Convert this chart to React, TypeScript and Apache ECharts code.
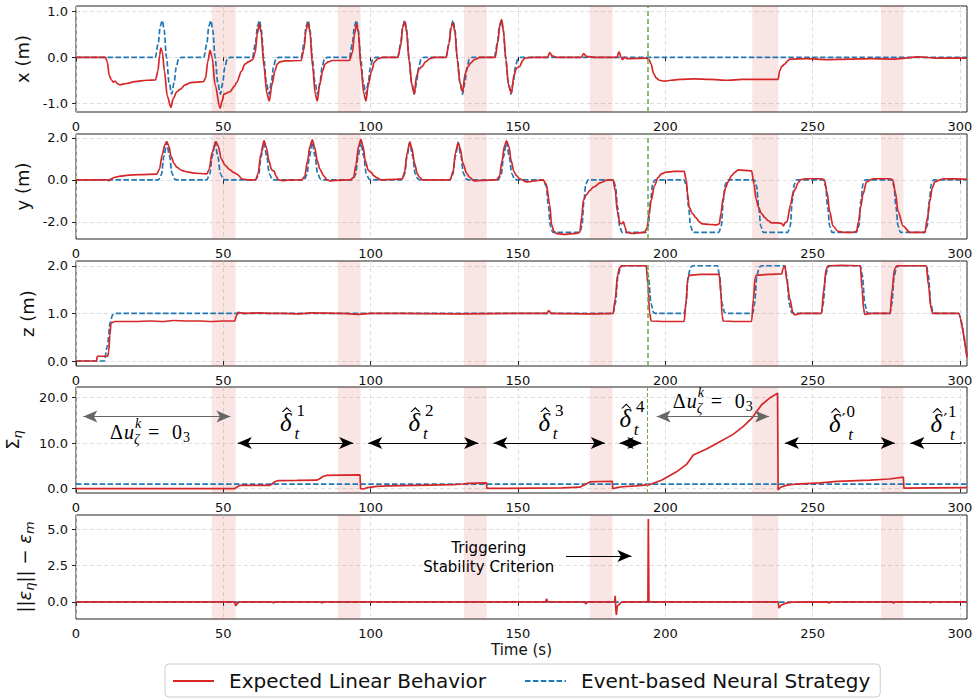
import React, { useEffect, useRef } from "react";
import * as echarts from "echarts";

const RED_NAME = "Expected Linear Behavior";
const BLUE_NAME = "Event-based Neural Strategy";
const RED = "#d62728";
const BLUE = "#1f77b4";
const GREEN = "#6fa84a";
const T_MAX = 302.4;

const xTicks = [0, 50, 100, 150, 200, 250, 300];
const ticksX = [-1, 0, 1];
const ticksY = [-2, 0, 2];
const ticksZ = [0, 1, 2];
const ticksSigma = [0, 10, 20];
const ticksErr = [0, 2.5, 5];

const bands: [number, number][] = [
  [46.1, 54.2], [88.9, 96.6], [131.7, 139.4], [174.4, 182.1], [229.5, 238.4], [273.2, 280.8],
];
const triggerTime = 194.0;

type P = [number, number];

const xRef: P[] = [
  [0, 0], [26.9, 0], [27.9, 0.3], [28.6, 0.68], [29.3, 0.8], [29.9, 0.6], [30.7, 0], [31.6, -0.55], [32.5, -0.8], [33.3, -0.55], [34.0, -0.22], [34.8, -0.04], [35.8, 0],
  [43.4, 0], [44.4, 0.3], [45.1, 0.68], [45.8, 0.8], [46.4, 0.6], [47.2, 0], [48.1, -0.55], [49.0, -0.8], [49.8, -0.55], [50.5, -0.22], [51.3, -0.04], [52.3, 0],
  [59.9, 0], [60.9, 0.3], [61.6, 0.68], [62.3, 0.8], [62.9, 0.6], [63.7, 0], [64.6, -0.55], [65.5, -0.8], [66.3, -0.55], [67.0, -0.22], [67.8, -0.04], [68.8, 0],
  [76.4, 0], [77.4, 0.3], [78.1, 0.68], [78.8, 0.8], [79.4, 0.6], [80.2, 0], [81.1, -0.55], [82.0, -0.8], [82.8, -0.55], [83.5, -0.22], [84.3, -0.04], [85.3, 0],
  [92.8, 0], [93.8, 0.3], [94.5, 0.68], [95.2, 0.8], [95.8, 0.6], [96.6, 0], [97.5, -0.55], [98.4, -0.8], [99.2, -0.55], [99.9, -0.22], [100.7, -0.04], [101.7, 0],
  [109.2, 0], [110.2, 0.3], [110.9, 0.68], [111.6, 0.8], [112.2, 0.6], [113.0, 0], [113.9, -0.55], [114.8, -0.8], [115.6, -0.55], [116.3, -0.22], [117.1, -0.04], [118.1, 0],
  [125.6, 0], [126.6, 0.3], [127.3, 0.68], [128.0, 0.8], [128.6, 0.6], [129.4, 0], [130.3, -0.55], [131.2, -0.8], [132.0, -0.55], [132.7, -0.22], [133.5, -0.04], [134.5, 0],
  [142.0, 0], [143.0, 0.3], [143.7, 0.68], [144.4, 0.8], [145.0, 0.6], [145.8, 0], [146.7, -0.55], [147.6, -0.8], [148.4, -0.55], [149.1, -0.22], [149.9, -0.04], [150.9, 0],
  [302.4, 0],
];

const xAct: P[] = [
  [0, 0], [10.0, 0], [10.6, -0.1], [11.3, -0.4], [12.1, -0.5], [12.7, -0.54], [13.3, -0.52], [14.0, -0.57], [14.9, -0.6], [17, -0.57], [20, -0.53], [24, -0.5], [27.0, -0.49],
  [27.8, -0.3], [28.4, 0.05], [28.8, 0.2], [29.3, 0.12], [30.0, -0.3], [31.0, -0.85], [32.2, -1.09], [33.0, -0.9], [34.2, -0.75], [35.3, -0.7], [37.0, -0.6], [39, -0.55], [43.2, -0.53],
  [44.0, -0.45], [44.7, -0.1], [45.5, 0.15], [46.2, 0.0], [47.2, -0.6], [48.9, -1.11], [49.6, -0.95], [50.2, -0.8], [52.2, -0.75], [53.9, -0.62], [54.5, -0.55], [56.2, -0.3], [57.3, -0.15], [58.5, -0.1], [60.0, -0.05],
  [60.8, 0.1], [61.5, 0.5], [62.2, 0.72], [62.8, 0.55], [63.8, -0.2], [64.8, -0.8], [65.6, -0.95], [66.5, -0.6], [67.5, -0.3], [68.3, -0.15], [69.2, -0.1], [71, -0.08], [76.4, -0.07],
  [77.3, 0.15], [78.1, 0.6], [78.8, 0.75], [79.4, 0.55], [80.3, -0.2], [81.2, -0.8], [81.9, -0.95], [82.7, -0.6], [83.7, -0.3], [84.5, -0.15], [85.6, -0.1], [87, -0.07], [92.8, -0.07],
  [93.8, 0.1], [94.5, 0.5], [95.2, 0.72], [95.8, 0.55], [96.7, -0.2], [97.7, -0.8], [98.4, -0.95], [99.2, -0.6], [100.3, -0.3], [101.3, -0.1], [102.5, -0.03], [104, 0], [109.2, 0],
  [110.2, 0.25], [110.9, 0.65], [111.6, 0.78], [112.2, 0.55], [113.1, -0.1], [114.0, -0.6], [114.8, -0.8], [115.6, -0.4], [116.5, -0.25], [117.5, -0.2], [118.6, -0.1], [120.1, -0.03], [121.5, 0], [125.6, 0],
  [126.6, 0.3], [127.3, 0.65], [128.0, 0.75], [128.6, 0.55], [129.4, -0.05], [130.3, -0.55], [131.2, -0.75], [132.1, -0.35], [133.1, -0.2], [134.0, -0.12], [135.2, -0.05], [137.1, 0], [142.3, 0],
  [143.2, 0.35], [143.9, 0.72], [144.5, 0.82], [145.1, 0.55], [145.9, -0.05], [146.8, -0.6], [147.8, -0.78], [148.6, -0.4], [149.5, -0.24], [150.6, -0.2], [151.5, -0.08], [152.3, -0.02], [155, 0],
  [160.0, 0], [160.8, 0.1], [161.6, 0.03], [163, 0], [171.5, 0], [172.3, 0.08], [173.2, 0.02], [176, 0], [183.6, 0], [184.3, 0.12], [185.0, 0.0], [185.4, -0.05], [186.2, 0.0], [187.2, -0.03],
  [193.5, -0.02], [194.5, -0.05], [195.2, -0.15], [196.0, -0.35], [196.9, -0.45], [198, -0.5], [199.7, -0.52], [202, -0.5], [205, -0.48], [210, -0.47], [215, -0.48], [221.3, -0.5], [226, -0.48], [232, -0.48], [238.3, -0.48],
  [238.8, -0.3], [239.5, -0.2], [240.5, -0.15], [241.5, -0.08], [242.3, -0.04], [248, -0.03], [255, -0.05], [262, -0.04], [270, -0.03], [278, -0.04], [286, 0.01], [292, -0.02], [302.4, -0.02],
];

const yRef: P[] = [
  [0, 0],
  [28.0, 0], [29.0, 0.25], [29.8, 1.1], [30.8, 1.78], [31.7, 1.15], [32.6, 0.3], [33.6, 0.02], [34.4, 0],
  [44.4, 0], [45.4, 0.25], [46.2, 1.1], [47.2, 1.78], [48.1, 1.15], [49.0, 0.3], [50.0, 0.02], [50.8, 0],
  [61.0, 0], [62.0, 0.25], [62.8, 1.1], [63.8, 1.78], [64.7, 1.15], [65.6, 0.3], [66.6, 0.02], [67.4, 0],
  [77.4, 0], [78.4, 0.25], [79.2, 1.1], [80.2, 1.78], [81.1, 1.15], [82.0, 0.3], [83.0, 0.02], [83.8, 0],
  [93.9, 0], [94.9, 0.25], [95.7, 1.1], [96.7, 1.78], [97.6, 1.15], [98.5, 0.3], [99.5, 0.02], [100.3, 0],
  [110.5, 0], [111.5, 0.25], [112.3, 1.1], [113.3, 1.78], [114.2, 1.15], [115.1, 0.3], [116.1, 0.02], [116.9, 0],
  [126.9, 0], [127.9, 0.25], [128.7, 1.1], [129.7, 1.78], [130.6, 1.15], [131.5, 0.3], [132.5, 0.02], [133.3, 0],
  [143.3, 0], [144.3, 0.25], [145.1, 1.1], [146.1, 1.78], [147.0, 1.15], [147.9, 0.3], [148.9, 0.02], [149.7, 0],
  [158.5, 0], [159.6, -0.3], [160.3, -1.2], [161.0, -2.2], [161.8, -2.5], [171.0, -2.5], [171.7, -2.2], [172.4, -1.0], [173.0, -0.2], [173.8, 0],
  [182.3, 0], [183.1, -0.3], [183.8, -1.3], [184.5, -2.2], [185.3, -2.5], [193.4, -2.5], [194.2, -2.2], [195.0, -1.0], [195.7, -0.2], [196.5, 0],
  [206.4, 0], [207.2, -0.3], [207.9, -1.3], [208.6, -2.2], [209.4, -2.5], [218.2, -2.5], [219.0, -2.2], [219.7, -1.0], [220.4, -0.2], [221.2, 0],
  [230.2, 0], [231.0, -0.3], [231.7, -1.3], [232.4, -2.2], [233.2, -2.5], [241.6, -2.5], [242.4, -2.2], [243.1, -1.0], [243.8, -0.2], [244.6, 0],
  [253.6, 0], [254.4, -0.3], [255.1, -1.3], [255.8, -2.2], [256.6, -2.5], [264.9, -2.5], [265.7, -2.2], [266.4, -1.0], [267.1, -0.2], [267.9, 0],
  [276.8, 0], [277.6, -0.3], [278.3, -1.3], [279.0, -2.2], [279.8, -2.5], [288.1, -2.5], [288.9, -2.2], [289.6, -1.0], [290.3, -0.2], [291.1, 0],
  [302.4, 0],
];

const yAct: P[] = [
  [0, 0], [10.4, 0], [11.2, -0.04], [12.0, 0.05], [13.2, 0.12], [15, 0.17], [17.2, 0.21], [21.7, 0.25], [27.4, 0.27],
  [28.3, 0.5], [29.3, 1.2], [30.1, 1.65], [30.8, 1.82], [31.5, 1.6], [32.3, 1.1], [33.2, 0.8], [34.2, 0.6], [35.8, 0.45], [37.6, 0.38], [40, 0.32], [44.4, 0.28],
  [45.2, 0.5], [46.2, 1.3], [47.5, 1.82], [48.3, 1.6], [49.3, 1.0], [50.6, 0.7], [52.2, 0.48], [53.5, 0.35], [54.5, 0.28], [55.2, 0.2], [56.2, 0.05], [58.0, 0], [61.0, 0],
  [61.8, 0.3], [62.7, 1.2], [63.8, 1.87], [64.6, 1.55], [65.5, 0.9], [66.4, 0.47], [67.2, 0.42], [67.8, 0.2], [68.7, 0.0], [70, -0.04], [72, -0.02], [76.6, 0],
  [77.6, 0.15], [78.6, 0.9], [79.4, 1.6], [80.2, 1.9], [81.0, 1.55], [81.9, 0.9], [82.8, 0.5], [84.0, 0.2], [85.2, 0.0], [86.2, -0.05], [88, -0.03], [93.0, 0],
  [94.2, 0.1], [95.0, 0.7], [95.9, 1.6], [96.7, 1.92], [97.4, 1.6], [98.2, 0.9], [99.2, 0.45], [100.2, 0.35], [101.0, 0.2], [102.0, 0.1], [103.5, 0], [108, 0.02], [110.8, 0.05],
  [111.6, 0.4], [112.4, 1.3], [113.3, 1.8], [114.0, 1.5], [114.9, 0.8], [115.8, 0.3], [116.6, 0.12], [117.5, 0], [123, 0], [127.0, 0],
  [128.0, 0.4], [128.8, 1.3], [129.7, 1.75], [130.4, 1.5], [131.3, 0.8], [132.6, 0.3], [133.6, 0.12], [135, -0.05], [138, -0.03], [142.7, 0],
  [143.7, 0.15], [144.6, 0.9], [145.4, 1.6], [146.1, 1.85], [146.9, 1.6], [147.7, 0.9], [148.6, 0.4], [149.5, 0.2], [150.6, 0.05], [152.8, -0.1], [155, -0.07], [158.5, 0],
  [159.6, -0.2], [160.8, -1.2], [161.4, -2.13], [162.2, -2.45], [163.1, -2.56], [165.3, -2.6], [169.9, -2.55], [171.0, -2.5], [171.6, -1.8], [172.2, -0.98], [173.3, -0.7], [174.4, -0.5], [175.6, -0.35], [177.9, -0.15], [180.2, -0.02], [182.3, 0],
  [183.0, -0.5], [183.7, -1.5], [184.6, -2.05], [185.2, -2.1], [185.8, -2.0], [186.3, -2.25], [186.9, -2.5], [188.5, -2.55], [193.0, -2.5], [193.8, -2.3], [194.5, -1.6], [195.2, -1.0], [196.3, -0.3], [197.5, 0.1], [198.7, 0.28], [200.3, 0.36], [203, 0.4], [206.4, 0.4],
  [207.1, 0.0], [207.6, -0.7], [208.1, -1.3], [209.2, -1.6], [210.4, -1.8], [211.5, -2.0], [212.6, -2.1], [215, -2.13], [217.2, -2.15], [218.3, -2.1], [218.9, -1.6], [219.6, -0.9], [220.4, -0.4], [221.3, -0.1], [222.5, 0.2], [223.6, 0.35], [224.7, 0.47], [227, 0.45], [229.3, 0.42],
  [230.1, -0.2], [230.8, -0.9], [231.6, -1.3], [232.6, -1.6], [233.8, -1.8], [235, -1.95], [236.1, -2.05], [238.0, -2.05], [239.5, -2.08], [240.1, -2.2], [240.6, -2.05], [241.3, -2.0], [242.5, -1.2], [243.4, -0.6], [244.2, -0.43], [245.0, -0.15], [245.9, 0.0], [247.5, 0.05], [253.0, 0.05],
  [254.0, 0.0], [254.9, -0.6], [255.8, -1.5], [256.9, -2.2], [258.6, -2.45], [260.5, -2.5], [263.7, -2.5], [264.9, -2.45], [265.6, -2.0], [266.3, -1.3], [267.1, -0.7], [268.3, -0.1], [270.5, 0.05], [276.2, 0.05],
  [277.2, 0.0], [278.1, -0.6], [279.0, -1.5], [280.7, -2.2], [283.0, -2.5], [288.1, -2.5], [289.0, -1.8], [289.8, -1.0], [290.6, -0.4], [291.5, -0.1], [294.3, 0.05], [298, 0.04], [302.4, 0.02],
];

const zRef: P[] = [
  [0, 0], [9.6, 0], [10.6, 0.3], [11.6, 0.8], [12.4, 0.97], [13.2, 1.0],
  [182.3, 1.0], [183.0, 1.2], [184.0, 1.8], [184.8, 1.97], [185.6, 2.0], [193.5, 2.0], [194.2, 1.8], [195.2, 1.2], [196.0, 1.02], [196.8, 1.0],
  [206.4, 1.0], [207.0, 1.2], [207.8, 1.8], [208.6, 1.97], [209.4, 2.0], [217.7, 2.0], [218.4, 1.8], [219.3, 1.2], [220.1, 1.02], [220.9, 1.0],
  [229.7, 1.0], [230.3, 1.2], [231.1, 1.8], [231.9, 1.97], [232.7, 2.0], [240.5, 2.0], [241.2, 1.8], [242.1, 1.2], [242.9, 1.02], [243.7, 1.0],
  [253.0, 1.0], [253.6, 1.2], [254.4, 1.8], [255.2, 1.97], [256.0, 2.0], [266.2, 2.0], [266.9, 1.8], [267.7, 1.2], [268.5, 1.02], [269.3, 1.0],
  [276.3, 1.0], [276.9, 1.2], [277.7, 1.8], [278.5, 1.97], [279.3, 2.0], [288.6, 2.0], [289.3, 1.8], [290.1, 1.2], [290.9, 1.02], [291.7, 1.0],
  [299.5, 1.0], [302.4, 0.1],
];

const zAct: P[] = [
  [0, 0], [7.0, 0], [7.2, 0.1], [10.8, 0.1], [11.1, 0.2], [11.5, 0.55], [11.9, 0.8], [13.2, 0.83], [20, 0.83], [25, 0.84], [30, 0.83], [33, 0.85], [38, 0.84], [42, 0.84], [46, 0.83], [50, 0.84], [53.9, 0.84],
  [54.4, 0.95], [55.0, 1.02], [57, 1.0], [62, 1.01], [66, 1.0], [70, 1.0], [76, 0.99], [80, 1.01], [90, 1.0], [96, 0.98], [100, 1.0], [110, 1.0], [130, 0.99], [150, 1.0], [159.8, 1.0], [160.5, 1.06], [161.2, 1.0], [175, 0.99],
  [182.3, 1.0], [183.0, 1.3], [183.8, 1.8], [184.5, 1.96], [185.2, 2.0], [193.5, 2.0], [194.1, 1.6], [194.7, 1.0], [195.2, 0.84], [200, 0.83], [206.4, 0.83],
  [207.0, 1.2], [207.6, 1.7], [208.1, 1.8], [212, 1.82], [218.3, 1.82], [218.9, 1.4], [219.3, 0.95], [219.6, 0.84], [224, 0.83], [229.3, 0.83],
  [229.9, 1.3], [230.5, 1.75], [230.9, 1.8], [235, 1.82], [239.5, 1.83], [240.0, 1.95], [240.6, 2.0], [241.2, 1.7], [242.3, 1.3], [243.3, 1.02], [243.9, 0.97], [246, 1.0], [253.0, 1.0],
  [253.8, 1.5], [254.6, 1.93], [255.3, 2.0], [260, 2.01], [266.2, 2.0], [266.8, 1.5], [267.3, 1.1], [267.7, 0.98], [270, 1.0], [276.3, 1.0],
  [277.0, 1.5], [277.8, 1.93], [278.6, 2.0], [283, 2.0], [288.6, 2.0], [289.3, 1.6], [290.2, 1.1], [290.8, 1.0], [295, 1.0], [299.5, 1.0], [302.4, 0.08],
];

const sigmaRef: P[] = [[0, 1.0], [302.4, 1.0]];

const sigmaAct: P[] = [
  [0, 0], [53.9, 0], [54.5, 0.3], [55.6, 0.7], [65.8, 0.72], [66.5, 1.0], [67.5, 1.5], [68.7, 1.76], [75, 1.8], [81.7, 1.85], [82.8, 2.2], [84.0, 2.7], [85.1, 2.9], [90, 2.95], [96.4, 3.0],
  [96.6, 0.0], [97.5, -0.1], [99, 0.2], [102, 0.5], [106, 0.6], [110, 0.65], [120, 0.75], [128, 0.85], [131.4, 1.0], [133, 1.15], [139.3, 1.25],
  [139.45, 0.05], [145, 0.05], [155, 0.1], [165, 0.15], [171, 0.3], [172.5, 0.8], [174.4, 1.47], [178, 1.55], [182.0, 1.6],
  [182.2, -0.05], [183.5, 0.2], [185.5, 0.4], [190, 0.6], [194.8, 0.88], [198.7, 1.84], [203.8, 3.68], [207.2, 5.3], [209.5, 7.35], [214.0, 8.68], [218.5, 10.3], [223.0, 11.9], [226.4, 13.6], [229.3, 15.4], [232.7, 18.4], [235.5, 19.9], [238.1, 20.96],
  [238.3, -0.3], [239.2, 0.3], [241.0, 0.7], [244.4, 1.0], [252.6, 1.25], [258.3, 1.6], [269.6, 1.84], [276, 2.1], [280.8, 2.5],
  [281.0, 0.1], [290, 0.15], [302.4, 0.2],
];

const errRef: P[] = [[0, -0.02], [302.4, -0.02]];

const errAct: P[] = [
  [0, 0], [53.8, 0], [54.2, -0.27], [54.8, -0.1], [55.5, 0], [66.5, 0], [67, -0.08], [67.6, 0], [83, 0], [83.4, -0.08], [84, 0],
  [159.4, 0], [159.7, 0.2], [160.1, 0], [172.6, 0], [173.0, -0.15], [173.6, 0], [182.8, 0], [183.0, 0.41], [183.2, -0.5], [183.4, -0.9], [183.7, -0.3], [184.3, -0.2], [185, -0.05], [186, 0],
  [194.1, 0], [194.25, 5.73], [194.45, 0], [238.3, 0], [238.6, -0.44], [239.2, -0.25], [240.2, -0.15], [241.5, -0.08], [243, -0.02],
  [255, 0], [255.5, -0.1], [256, 0], [277, 0], [277.5, -0.1], [278, 0], [289.5, 0], [290, -0.08], [290.5, 0], [302.4, 0],
];

// annotation anchors (data coordinates)
const sigmaArrows = [
  { from: 0.2, to: 54.7, y: 15.8, gray: true, open: false },
  { from: 52.6, to: 96.4, y: 10, gray: false, open: false },
  { from: 96.9, to: 138.8, y: 10, gray: false, open: false },
  { from: 139.4, to: 181.8, y: 10, gray: false, open: false },
  { from: 182.2, to: 194.2, y: 10, gray: false, open: false },
  { from: 194.8, to: 237.5, y: 15.8, gray: true, open: false },
  { from: 238.3, to: 280.2, y: 10, gray: false, open: false },
  { from: 280.9, to: 300.1, y: 10, gray: false, open: true },
];
const deltaMarks = [
  { t: 71.2, v: 14.5, sup: "1", prime: false },
  { t: 114.8, v: 14.5, sup: "2", prime: false },
  { t: 158.9, v: 14.5, sup: "3", prime: false },
  { t: 186.4, v: 15.3, sup: "4", prime: false },
  { t: 257.5, v: 14.35, sup: "0", prime: true },
  { t: 292.0, v: 14.35, sup: "1", prime: true },
];
const deltaUMarks = [
  { t: 11.5, v: 12.5 },
  { t: 202.5, v: 19.3 },
];
const triggerText = { t: 140.1, v: 3.09, text: "Triggering\nStability Criterion" };
const triggerArrow = { from: 166.3, to: 190.8, y: 3.16 };

const panels = [
  { ref: xRef, act: xAct, min: -1.19, max: 1.115, ticks: ticksX, name: "x (m)", gap: 40, top: 6, h: 106, smooth: true },
  { ref: yRef, act: yAct, min: -2.82, max: 2.18, ticks: ticksY, name: "y (m)", gap: 40, top: 134, h: 105, smooth: true },
  { ref: zRef, act: zAct, min: -0.105, max: 2.1, ticks: ticksZ, name: "z (m)", gap: 40, top: 261, h: 105, smooth: true },
  { ref: sigmaRef, act: sigmaAct, min: -0.97, max: 22.3, ticks: ticksSigma, name: "{s|Σ}{sub|η}", gap: 52, top: 387, h: 106, smooth: false },
  { ref: errRef, act: errAct, min: -1.19, max: 6.0, ticks: ticksErr, name: "{n|||}{e|ε}{sub|η}{n||| − }{e|ε}{sub|m}", gap: 40, top: 515, h: 104, smooth: false },
];

const SANS = "DejaVu Sans";
const MATH = "Liberation Serif";
const ARROW_INSET = 2.3;
const HAT_PATH = "path://M0,6 L5,0 L10,6 L8.6,6 L5,2 L1.4,6 Z";

function textPt(t: number, v: number, text: string, size: number, italic: boolean, dx: number, dy: number, align = "center", family = MATH, lineHeight = size) {
  return {
    coord: [t, v],
    symbol: "circle",
    symbolSize: 1,
    itemStyle: { color: "rgba(0,0,0,0)" },
    label: {
      show: true,
      position: "inside",
      formatter: text,
      fontFamily: family,
      fontSize: size,
      fontStyle: italic ? "italic" : "normal",
      color: "#000",
      align,
      verticalAlign: "middle",
      lineHeight,
      offset: [dx, dy],
    },
  };
}

function hatPt(t: number, v: number) {
  return {
    coord: [t, v],
    symbol: HAT_PATH,
    symbolSize: [10, 5],
    symbolOffset: [1, -13],
    itemStyle: { color: "#000" },
    label: { show: false },
  };
}

function buildOption() {
  const grid = panels.map((p) => ({
    left: 76, right: 9, top: p.top, height: p.h,
    containLabel: false, outerBoundsMode: "none",
    show: true, borderColor: "#222", borderWidth: 1, backgroundColor: "transparent",
  }));
  const splitLine = { show: true, lineStyle: { color: "#d6d6d6", type: [4, 3], width: 0.8 } };
  const xAxis = panels.map((_, i) => ({
    type: "value", gridIndex: i, min: 0, max: T_MAX,
    axisLine: { show: false },
    axisTick: { show: true, length: 4, lineStyle: { color: "#222" }, customValues: xTicks },
    axisLabel: { customValues: xTicks, fontSize: 13, color: "#111", margin: 8, fontFamily: SANS },
    splitLine,
    name: i === 4 ? "Time (s)" : "",
    nameLocation: "middle", nameGap: 23,
    nameTextStyle: { fontSize: 15, color: "#111", fontFamily: SANS },
  }));
  const yAxis = panels.map((p, i) => ({
    type: "value", gridIndex: i, min: p.min, max: p.max,
    axisLine: { show: false },
    axisTick: { show: true, length: 4, lineStyle: { color: "#222" }, customValues: p.ticks },
    axisLabel: { customValues: p.ticks, fontSize: 13, color: "#111", margin: 8, fontFamily: SANS, formatter: (v: number) => v.toFixed(1) },
    splitLine,
    name: p.name, nameLocation: "middle", nameGap: p.gap, nameRotate: 90,
    nameTextStyle: {
      fontSize: 18, color: "#111", fontFamily: SANS,
      rich: {
        s: { fontSize: 18, fontFamily: SANS, color: "#111", lineHeight: 24 },
        n: { fontSize: 18, fontFamily: SANS, color: "#111", lineHeight: 24 },
        e: { fontSize: 18, fontFamily: SANS, fontStyle: "italic", color: "#111", lineHeight: 24 },
        sub: { fontSize: 13, fontFamily: SANS, fontStyle: "italic", color: "#111", lineHeight: 12, verticalAlign: "bottom" },
      },
    },
  }));

  const series: any[] = [];
  panels.forEach((p, i) => {
    const blue: any = {
      type: "line", name: BLUE_NAME, xAxisIndex: i, yAxisIndex: i, data: p.ref,
      symbol: "none", smooth: p.smooth ? 0.3 : false, smoothMonotone: "x",
      lineStyle: { color: BLUE, width: 1.7, type: [5.5, 2.4] }, itemStyle: { color: BLUE }, z: 3,
      markArea: {
        silent: true,
        itemStyle: { color: "rgba(214,39,40,0.12)" },
        data: bands.map(([a, b]) => [{ xAxis: a }, { xAxis: b }]),
      },
    };
    if (i < 4) {
      blue.markLine = {
        silent: true, symbol: ["none", "none"], label: { show: false },
        lineStyle: { color: GREEN, type: i === 3 ? [4, 2] : [5, 3], width: i === 3 ? 1 : 1.5 },
        data: [{ xAxis: triggerTime }],
      };
    }
    series.push(blue);
    series.push({
      type: "line", name: RED_NAME, xAxisIndex: i, yAxisIndex: i, data: p.act,
      symbol: "none", smooth: p.smooth ? 0.3 : false, smoothMonotone: "x",
      lineStyle: { color: RED, width: 1.7 }, itemStyle: { color: RED }, z: 4,
    });
  });

  // panel 4 annotations
  const arrowData: any[] = [];
  sigmaArrows.forEach((a) => {
    const col = a.gray ? "#666" : "#000";
    arrowData.push([
      { coord: [a.from + ARROW_INSET, a.y], symbol: "arrow", lineStyle: { color: col, width: 1.2 }, itemStyle: { color: "#000" } },
      { coord: [a.open ? a.to : a.to - ARROW_INSET, a.y], symbol: a.open ? "none" : "arrow" },
    ]);
    if (a.open) {
      arrowData.push([
        { coord: [a.to, a.y], symbol: "none", lineStyle: { color: "#000", width: 1.6, type: [1.5, 2] } },
        { coord: [T_MAX, a.y], symbol: "none" },
      ]);
    }
  });
  const pts: any[] = [];
  deltaMarks.forEach((d) => {
    pts.push(textPt(d.t, d.v, "δ", 25, true, 0, 0, "center", MATH, 18));
    pts.push(hatPt(d.t, d.v));
    if (d.prime) {
      pts.push(textPt(d.t, d.v, "′", 17, false, 9, -4, "center", "DejaVu Serif", 8));
      pts.push(textPt(d.t, d.v, d.sup, 17, false, 16, -12));
      pts.push(textPt(d.t, d.v, "t", 17, true, 16, 11));
    } else {
      pts.push(textPt(d.t, d.v, d.sup, 17, false, 15, -12));
      pts.push(textPt(d.t, d.v, "t", 17, true, 11, 11));
    }
  });
  deltaUMarks.forEach((d) => {
    pts.push(textPt(d.t, d.v, "Δ", 20, false, 0, 0, "left"));
    pts.push(textPt(d.t, d.v, "u", 20, true, 14, 0, "left"));
    pts.push(textPt(d.t, d.v, "ζ", 14, true, 24, 8, "left"));
    pts.push(textPt(d.t, d.v, "k", 14, true, 25, -8, "left"));
    pts.push(textPt(d.t, d.v, "=", 20, false, 38, 0, "left"));
    pts.push(textPt(d.t, d.v, "0", 20, false, 62, 0, "left"));
    pts.push(textPt(d.t, d.v, "3", 14, false, 73, 6, "left"));
  });
  series.push({
    type: "line", name: "annot-sigma", xAxisIndex: 3, yAxisIndex: 3, data: [],
    markLine: {
      silent: true, symbol: ["arrow", "arrow"], symbolSize: [9, 14], label: { show: false },
      lineStyle: { color: "#000", width: 1.2, type: "solid" },
      data: arrowData,
    },
    markPoint: { silent: true, data: pts },
  });

  series.push({
    type: "line", name: "annot-err", xAxisIndex: 4, yAxisIndex: 4, data: [],
    markLine: {
      silent: true, symbol: ["none", "arrow"], symbolSize: [9, 14], label: { show: false },
      lineStyle: { color: "#000", width: 1.2, type: "solid" },
      data: [[{ coord: [triggerArrow.from, triggerArrow.y] }, { coord: [triggerArrow.to - ARROW_INSET, triggerArrow.y] }]],
    },
    markPoint: { silent: true, data: [textPt(triggerText.t, triggerText.v, triggerText.text, 15, false, 0, 0, "center", SANS, 19)] },
  });

  return {
    animation: false,
    backgroundColor: "#fff",
    grid, xAxis, yAxis, series,
    legend: {
      data: [RED_NAME, BLUE_NAME],
      left: 165, top: 664, orient: "horizontal",
      itemWidth: 41, itemHeight: 12, itemGap: 38,
      padding: [7, 10, 6, 7],
      borderColor: "#cccccc", borderWidth: 1, borderRadius: 4,
      selectedMode: false,
      itemStyle: { color: "rgba(0,0,0,0)", borderColor: "rgba(0,0,0,0)", borderWidth: 0 },
      textStyle: { fontSize: 20, color: "#111", fontFamily: SANS, padding: [0, 0, 0, 10] },
    },
  };
}

export default function App() {
  const ref = useRef<HTMLDivElement>(null);
  useEffect(() => {
    const chart = echarts.init(ref.current!, null, { renderer: "svg" });
    chart.setOption(buildOption() as any);
    return () => chart.dispose();
  }, []);
  return (
    <div
      ref={ref}
      style={{ position: "fixed", left: 0, top: 0, width: 976, height: 700, background: "#fff" }}
    />
  );
}
